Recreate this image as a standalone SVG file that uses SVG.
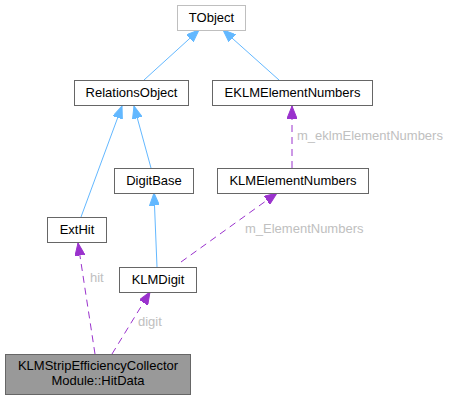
<svg xmlns="http://www.w3.org/2000/svg" width="451" height="400" viewBox="0 0 451 400">
<style>
  .node rect { fill: #ffffff; stroke: #666666; stroke-width: 1; }
  .node text { font-family: "Liberation Sans", Arial, sans-serif; font-size: 13px; fill: #000000; text-anchor: middle; }
  .inh { stroke: #63b8ff; stroke-width: 1; fill: none; }
  .use { stroke: #9a32cd; stroke-width: 1; fill: none; stroke-dasharray: 7,5; }
  .lbl { font-family: "Liberation Sans", Arial, sans-serif; font-size: 13px; fill: #c0c0c0; }
</style>
<defs>
  <marker id="ab" markerUnits="userSpaceOnUse" markerWidth="13" markerHeight="10" refX="12.5" refY="5" orient="auto">
    <path d="M0,0 L12.5,5 L0,10 z" fill="#63b8ff" stroke="#63b8ff" stroke-width="1"/>
  </marker>
  <marker id="ap" markerUnits="userSpaceOnUse" markerWidth="13" markerHeight="10" refX="12.5" refY="5" orient="auto">
    <path d="M0,0 L12.5,5 L0,10 z" fill="#9a32cd" stroke="#9a32cd" stroke-width="1"/>
  </marker>
</defs>
<rect width="451" height="400" fill="#ffffff"/>
<g id="edges">
  <line class="inh" x1="144" y1="80" x2="199" y2="30" marker-end="url(#ab)"/>
  <line class="inh" x1="279" y1="80" x2="223" y2="30" marker-end="url(#ab)"/>
  <line class="inh" x1="81" y1="217" x2="122" y2="106" marker-end="url(#ab)"/>
  <line class="inh" x1="151" y1="168" x2="134" y2="106" marker-end="url(#ab)"/>
  <line class="inh" x1="157" y1="267" x2="154" y2="193" marker-end="url(#ab)"/>
  <line class="use" x1="292" y1="168" x2="292" y2="106" marker-end="url(#ap)"/>
  <text class="lbl" x="297" y="140">m_eklmElementNumbers</text>
  <line class="use" x1="181" y1="262" x2="277" y2="193" marker-end="url(#ap)"/>
  <text class="lbl" x="245" y="233">m_ElementNumbers</text>
  <line class="use" x1="95" y1="354" x2="78" y2="243" marker-end="url(#ap)"/>
  <text class="lbl" x="90" y="282">hit</text>
  <line class="use" x1="112" y1="354" x2="150" y2="292" marker-end="url(#ap)"/>
  <text class="lbl" x="138" y="326">digit</text>
</g>
<g id="TObject" class="node">
  <rect x="177.5" y="5.5" width="68" height="25" style="stroke:#bfbfbf"/>
  <text x="211.5" y="22">TObject</text>
</g>
<g id="RelationsObject" class="node">
  <rect x="74.5" y="80.5" width="114" height="25"/>
  <text x="131.5" y="97">RelationsObject</text>
</g>
<g id="EKLMElementNumbers" class="node">
  <rect x="212.5" y="80.5" width="160" height="25"/>
  <text x="292.5" y="97">EKLMElementNumbers</text>
</g>
<g id="DigitBase" class="node">
  <rect x="114.5" y="168.5" width="79" height="25"/>
  <text x="154" y="185">DigitBase</text>
</g>
<g id="KLMElementNumbers" class="node">
  <rect x="217.5" y="168.5" width="151" height="25"/>
  <text x="293" y="185">KLMElementNumbers</text>
</g>
<g id="ExtHit" class="node">
  <rect x="47.5" y="217.5" width="59" height="25"/>
  <text x="77" y="234">ExtHit</text>
</g>
<g id="KLMDigit" class="node">
  <rect x="119.5" y="267.5" width="77" height="25"/>
  <text x="158" y="284">KLMDigit</text>
</g>
<g id="HitData" class="node">
  <rect x="5.5" y="354.5" width="185" height="40" style="fill:#999999"/>
  <text x="98" y="370">KLMStripEfficiencyCollector</text>
  <text x="98" y="385">Module::HitData</text>
</g>
</svg>
